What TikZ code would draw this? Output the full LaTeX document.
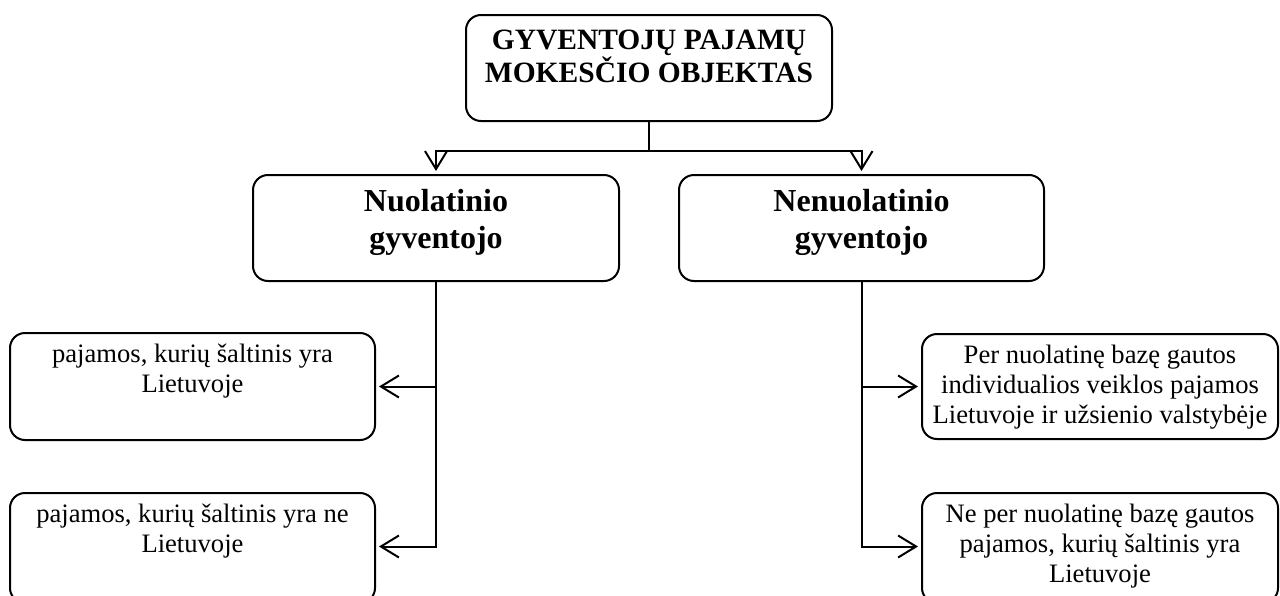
\documentclass[tikz,border=0pt]{standalone}
\usepackage{fontspec}
\setmainfont{Liberation Serif}
\usetikzlibrary{arrows.meta,positioning}

\begin{document}
\begin{tikzpicture}[x=0.5pt,y=-0.5pt,
  box/.style={draw, line width=1pt, rounded corners=7.5pt, minimum width=183pt, minimum height=53pt, inner sep=0pt},
  headtext/.style={font=\bfseries\fontsize{14.75}{16.5}\selectfont, align=center, inner sep=0pt},
  kindtext/.style={font=\bfseries\fontsize{16}{18.5}\selectfont, align=center, inner sep=0pt},
  bodytext/.style={font=\fontsize{13.3}{15}\selectfont, align=center, inner sep=0pt},
  link/.style={line width=1pt},
  arr/.style={line width=1pt, -{Straight Barb[length=9pt,width=11pt]}, shorten >=1.5pt}]
\useasboundingbox (0,0) rectangle (1280,595);
\clip (0,0) rectangle (1280,595);

% Drawing boxes
\node[box] (top) at (649,68) {};
\node[box] (nuol) at (436,228) {};
\node[box, minimum width=182.5pt] (nenuol) at (861.5,228) {};
\node[box, minimum width=182.5pt, minimum height=53.5pt] (lt) at (192.5,386.5) {};
\node[box, minimum width=182.5pt, minimum height=55pt] (nelt) at (192.5,548) {};
\node[box, minimum width=178pt, minimum height=52.5pt] (pnb) at (1100,386.5) {};
\node[box, minimum width=178pt, minimum height=55pt] (npnb) at (1100,548) {};

% Drawing texts
\node[headtext, below=8pt of top.north] (toptext) {GYVENTOJŲ PAJAMŲ\\MOKESČIO OBJEKTAS};
\node[kindtext, below=7.5pt of nuol.north] (nuoltext) {Nuolatinio\\gyventojo};
\node[kindtext, below=7.5pt of nenuol.north] (nenuoltext) {Nenuolatinio\\gyventojo};
\node[bodytext, below=6pt of lt.north] (lttext) {pajamos, kurių šaltinis yra\\Lietuvoje};
\node[bodytext, below=6pt of nelt.north] (nelttext) {pajamos, kurių šaltinis yra ne\\Lietuvoje};
\node[bodytext, below=6pt of pnb.north] (pnbtext) {Per nuolatinę bazę gautos\\individualios veiklos pajamos\\Lietuvoje ir užsienio valstybėje};
\node[bodytext, below=6pt of npnb.north] (npnbtext) {Ne per nuolatinę bazę gautos\\pajamos, kurių šaltinis yra\\Lietuvoje};

% Drawing connectors
\draw[link] (top.south) -- ++(0,29) coordinate (split);
\draw[arr] (split) -| (nuol.north);
\draw[arr] (split) -| (nenuol.north);
\draw[arr] (nuol.south) |- (lt.east);
\draw[arr] (nuol.south) |- ([yshift=0.75pt]nelt.east);
\draw[arr] (nenuol.south) |- (pnb.west);
\draw[arr] (nenuol.south) |- ([yshift=0.75pt]npnb.west);
\end{tikzpicture}
\end{document}
